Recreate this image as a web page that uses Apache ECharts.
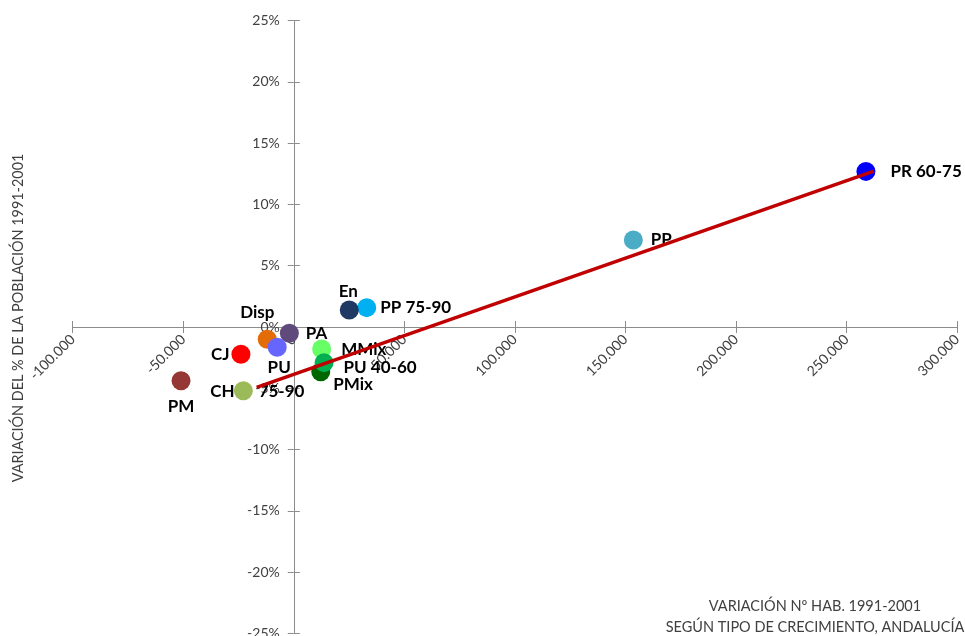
<!DOCTYPE html>
<html>
<head>
<meta charset="utf-8">
<script src="https://cdn.jsdelivr.net/npm/echarts@6/dist/echarts.min.js"></script>
<style>
  html, body { margin: 0; padding: 0; background: #fff; }
  #chart { width: 965px; height: 636px; }
</style>
</head>
<body>
<div id="chart"></div>
<script>
// Growth types: change in inhabitants vs. change in population share, 1991-2001
const typeNames = ['PR 60-75', 'PP', 'PP 75-90', 'En', 'PA', 'Disp', 'PU', 'CJ', 'PM', 'CH 75-90', 'MMix', 'PMix', 'PU 40-60'];
const habChange = [258800, 153600, 33000, 25100, -2000, -12000, -7500, -23900, -51000, -22800, 12600, 12200, 13700];
const popShareChange = [12.7, 7.1, 1.58, 1.39, -0.51, -1.0, -1.66, -2.23, -4.38, -5.2, -1.8, -3.65, -2.91];

// Trend line endpoints
const trendX = [-16800, 262400];
const trendY = [-4.92, 12.73];

// Axis ranges / ticks
const xTicks = { min: -100000, max: 300000, interval: 50000 };
const yTicks = { min: -25, max: 25, interval: 5 };

// Marker colours per growth type
const typeColors = {
  'PR 60-75': '#0000FF', 'PP': '#4BACC6', 'PP 75-90': '#00B0F0', 'En': '#1F3864',
  'PA': '#604A7B', 'Disp': '#E36C09', 'PU': '#6666FF', 'CJ': '#FF0000',
  'PM': '#953735', 'CH 75-90': '#9BBB59', 'MMix': '#66FF66', 'PU 40-60': '#00B050',
  'PMix': '#006600'
};

// Label placement per growth type (splitGap: label split around the marker)
const labelPlacement = {
  'PR 60-75': { position: 'right', distance: 15 },
  'PP': { position: 'right', distance: 8 },
  'PP 75-90': { position: 'right', distance: 4 },
  'En': { position: 'top', distance: 0, offset: [-1, 0] },
  'PA': { position: 'right', distance: 7 },
  'Disp': { position: 'top', distance: 4, offset: [-10, -5] },
  'PU': { position: 'bottom', distance: 0, offset: [2, 2] },
  'CJ': { position: 'left', distance: 2 },
  'PM': { position: 'bottom', distance: 8 },
  'CH 75-90': { position: 'inside', offset: [14, 1], splitGap: 24 },
  'MMix': { position: 'right', distance: 10 },
  'PU 40-60': { position: 'right', distance: 10, offset: [0, 5] },
  'PMix': { position: 'right', distance: 3, offset: [0, 13] }
};

function fmtThousands(v) {
  const s = String(Math.abs(v)).replace(/\B(?=(\d{3})+(?!\d))/g, '.');
  return (v < 0 ? '-' : '') + s;
}

const AXIS_COLOR = '#8C8C8C';
const LABEL_COLOR = '#404040';
const FONT = 'Lato, "Open Sans", sans-serif';
const POINT_LABEL = { color: '#000000', fontFamily: FONT, fontWeight: 'bold', fontSize: 17 };

// Plot area (px) and the offsets that bring both axes onto the origin
const GRID = { left: 72.7, right: 8, top: 20.7, bottom: 2.7 };
const W = 965, H = 636;
const plotW = W - GRID.left - GRID.right;
const plotH = H - GRID.top - GRID.bottom;
const zeroFromLeft = plotW * (0 - xTicks.min) / (xTicks.max - xTicks.min);
const zeroFromTop = plotH * (yTicks.max - 0) / (yTicks.max - yTicks.min);

function pointLabel(name) {
  const p = labelPlacement[name];
  const lbl = { show: true, position: p.position };
  if (p.distance != null) lbl.distance = p.distance;
  if (p.offset) lbl.offset = p.offset;
  if (p.splitGap) {
    const parts = name.split(' ');
    lbl.formatter = '{t|' + parts[0] + '}{g|}{t|' + parts.slice(1).join(' ') + '}';
    lbl.rich = { t: Object.assign({}, POINT_LABEL), g: { width: p.splitGap } };
  }
  return lbl;
}

const scatterData = typeNames.map((n, i) => ({
  name: n,
  value: [habChange[i], popShareChange[i]],
  itemStyle: { color: typeColors[n], opacity: 1 },
  label: pointLabel(n)
}));

const chart = echarts.init(document.getElementById('chart'), null, { renderer: 'canvas' });

const axisLineStyle = { color: AXIS_COLOR, width: 1 };
const tickStyle = { show: true, length: 6, lineStyle: { color: AXIS_COLOR } };

chart.setOption({
  animation: false,
  backgroundColor: '#ffffff',
  grid: Object.assign({ containLabel: false, outerBoundsMode: 'none' }, GRID),
  xAxis: [
    {
      type: 'value', position: 'bottom',
      offset: -(plotH - zeroFromTop),
      min: xTicks.min, max: xTicks.max, interval: xTicks.interval,
      splitLine: { show: false },
      axisLine: { show: true, onZero: false, lineStyle: axisLineStyle },
      axisTick: tickStyle,
      axisLabel: {
        show: true, rotate: 45, margin: 10,
        color: LABEL_COLOR, fontFamily: FONT, fontSize: 14,
        formatter: fmtThousands
      }
    },
    {
      type: 'value', position: 'top',
      offset: -zeroFromTop,
      min: xTicks.min, max: xTicks.max, interval: xTicks.interval,
      splitLine: { show: false },
      axisLine: { show: false, onZero: false },
      axisTick: tickStyle,
      axisLabel: { show: false }
    }
  ],
  yAxis: [
    {
      type: 'value', position: 'left',
      offset: -zeroFromLeft,
      min: yTicks.min, max: yTicks.max, interval: yTicks.interval,
      splitLine: { show: false },
      axisLine: { show: true, onZero: false, lineStyle: axisLineStyle },
      axisTick: tickStyle,
      axisLabel: {
        show: true, margin: 14,
        color: LABEL_COLOR, fontFamily: FONT, fontSize: 14,
        formatter: v => v + '%'
      }
    },
    {
      type: 'value', position: 'right',
      offset: -(plotW - zeroFromLeft),
      min: yTicks.min, max: yTicks.max, interval: yTicks.interval,
      splitLine: { show: false },
      axisLine: { show: false, onZero: false },
      axisTick: tickStyle,
      axisLabel: { show: false }
    }
  ],
  series: [
    {
      name: 'Tipos de crecimiento',
      type: 'scatter',
      xAxisIndex: 0, yAxisIndex: 0,
      z: 2,
      symbol: 'circle',
      symbolSize: 19,
      data: scatterData,
      label: Object.assign({ show: true, formatter: p => p.name }, POINT_LABEL),
      emphasis: { disabled: true }
    },
    {
      name: 'Tendencia',
      type: 'line',
      xAxisIndex: 0, yAxisIndex: 0,
      z: 3,
      symbol: 'none',
      data: trendX.map((x, i) => [x, trendY[i]]),
      lineStyle: { color: '#C00000', width: 3.5 },
      emphasis: { disabled: true }
    }
  ],
  graphic: [
    {
      type: 'text',
      x: 18, y: 318,
      rotation: Math.PI / 2,
      style: {
        text: 'VARIACIÓN DEL % DE LA POBLACIÓN 1991-2001',
        fill: '#404040', font: '14.4px ' + FONT,
        align: 'center', verticalAlign: 'middle'
      }
    },
    {
      type: 'text',
      x: 815, y: 606,
      style: {
        text: 'VARIACIÓN Nº HAB. 1991-2001',
        fill: '#404040', font: '14.5px ' + FONT,
        align: 'center', verticalAlign: 'middle'
      }
    },
    {
      type: 'text',
      x: 815, y: 627,
      style: {
        text: 'SEGÚN TIPO DE CRECIMIENTO, ANDALUCÍA',
        fill: '#404040', font: '14.5px ' + FONT,
        align: 'center', verticalAlign: 'middle'
      }
    }
  ]
});
</script>
</body>
</html>
